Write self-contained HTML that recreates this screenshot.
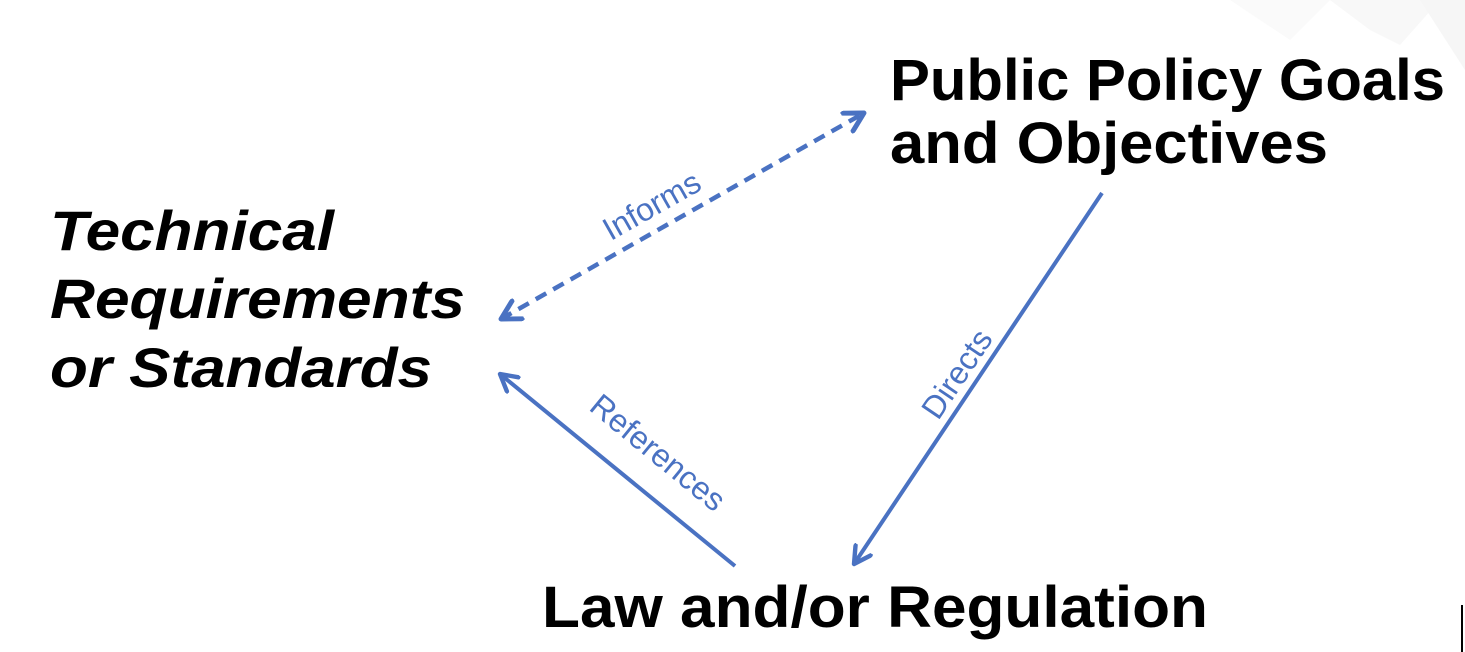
<!DOCTYPE html>
<html><head><style>
html,body{margin:0;padding:0;background:#fff;}
svg{display:block;}
text{font-family:"Liberation Sans",sans-serif;}
</style></head><body>
<svg width="1465" height="652" viewBox="0 0 1465 652">
<defs>
<marker id="ah" viewBox="0 0 12 12" refX="10" refY="6" markerWidth="5.5" markerHeight="5.5" orient="auto-start-reverse" markerUnits="strokeWidth">
<path d="M1,1 L10,6 L1,11" fill="none" stroke="#4a72c2" stroke-width="2.4" stroke-linecap="round" stroke-linejoin="round"/>
</marker>
</defs>
<polygon points="1230,0 1330,0 1290,40" fill="#fafafa"/>
<polygon points="1330,0 1440,0 1400,45 1370,30" fill="#f8f8f8"/>
<polygon points="1420,0 1465,0 1465,70" fill="#f6f6f6"/>
<line x1="1462" y1="605" x2="1462" y2="652" stroke="#000" stroke-width="2"/>

<line x1="501" y1="319" x2="864" y2="113" stroke="#4a72c2" stroke-width="4.5" stroke-dasharray="12,8" marker-start="url(#ah)" marker-end="url(#ah)"/>
<line x1="1102" y1="193" x2="854" y2="564" stroke="#4a72c2" stroke-width="4" marker-end="url(#ah)"/>
<line x1="735" y1="566" x2="500" y2="374" stroke="#4a72c2" stroke-width="4" marker-end="url(#ah)"/>

<text x="0" y="0" font-size="32" fill="#4a72c2" text-anchor="middle" transform="translate(657,215) rotate(-29.5)">Informs</text>
<text x="0" y="0" font-size="32" fill="#4a72c2" text-anchor="middle" transform="translate(966,380) rotate(-56)">Directs</text>
<text x="0" y="0" font-size="32" fill="#4a72c2" text-anchor="middle" transform="translate(651,461) rotate(39.3)">References</text>

<g font-weight="bold" fill="#000" font-size="58">
<text x="890" y="100" textLength="555" lengthAdjust="spacingAndGlyphs">Public Policy Goals</text>
<text x="890" y="163" textLength="438" lengthAdjust="spacingAndGlyphs">and Objectives</text>
<text x="542" y="627" textLength="666" lengthAdjust="spacingAndGlyphs">Law and/or Regulation</text>
<g font-style="italic" font-size="56">
<text x="50" y="250" textLength="284" lengthAdjust="spacingAndGlyphs">Technical</text>
<text x="50" y="318" textLength="415" lengthAdjust="spacingAndGlyphs">Requirements</text>
<text x="50" y="387" textLength="382" lengthAdjust="spacingAndGlyphs">or Standards</text>
</g>
</g>
</svg>
</body></html>
